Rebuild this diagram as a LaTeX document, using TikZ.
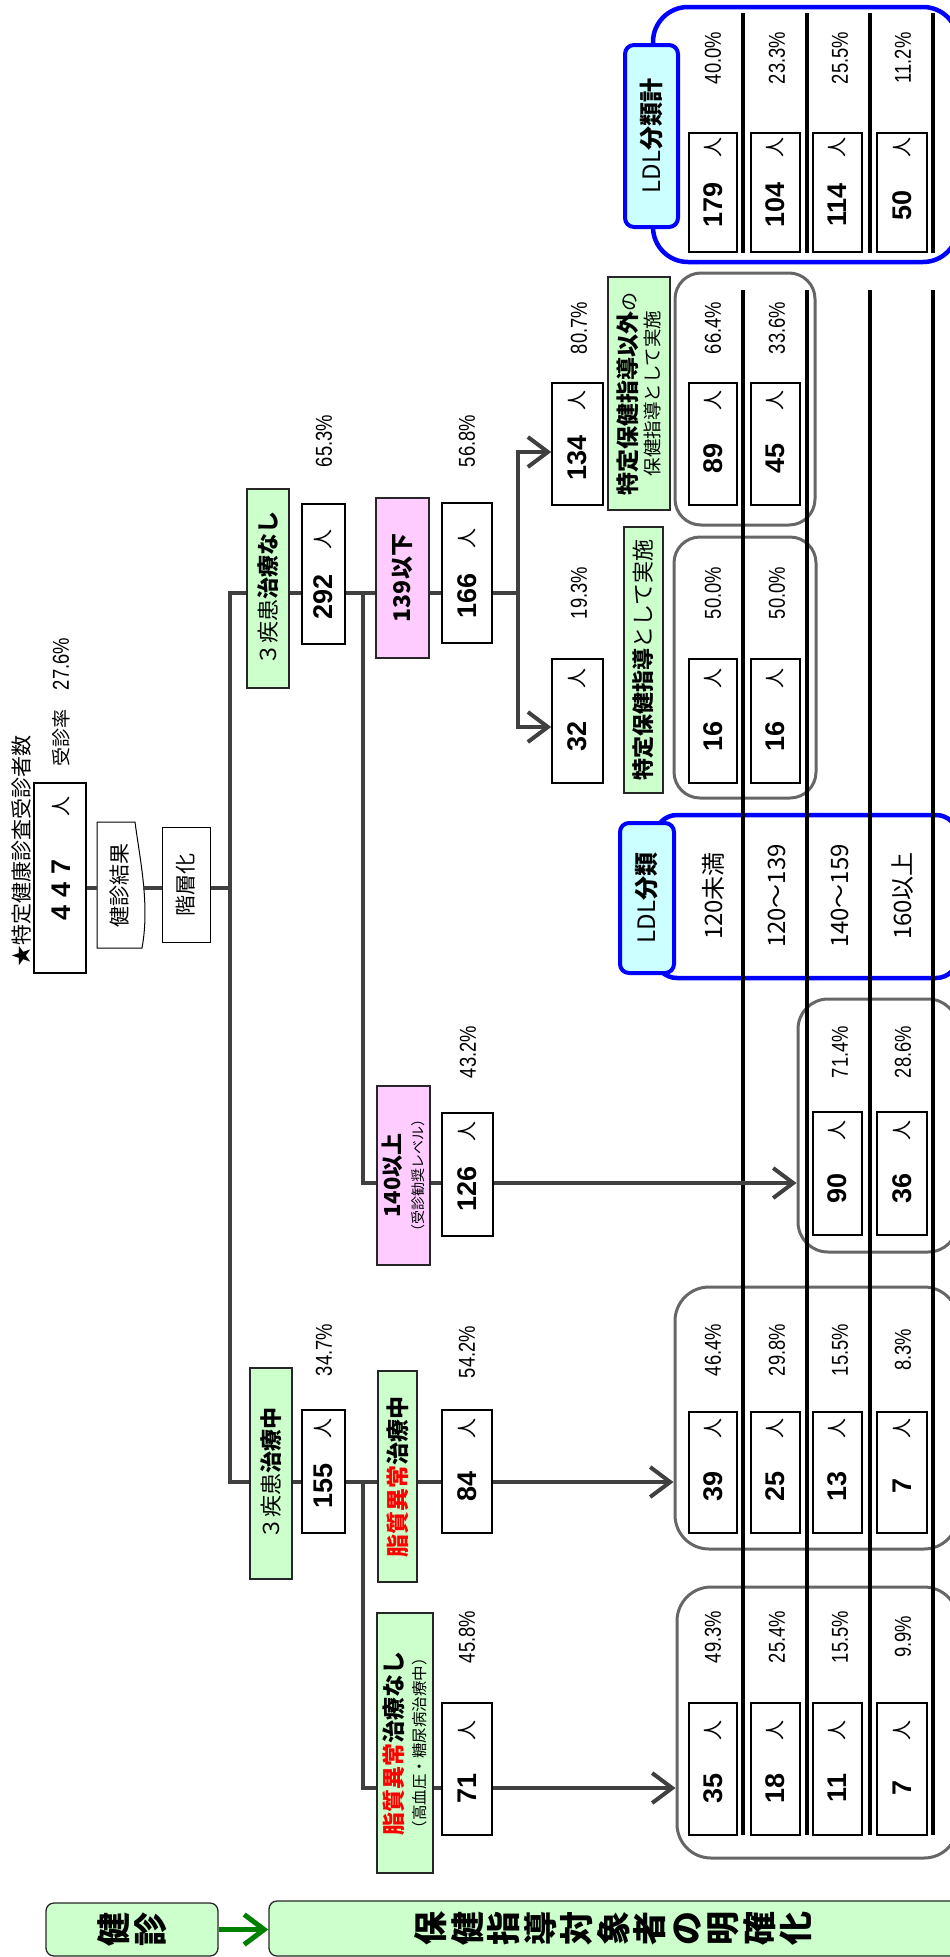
\documentclass[tikz,border=0pt]{standalone}
\usepackage{fontspec}
\setmainfont{Noto Sans CJK JP}
\newfontfamily\numfont{Liberation Sans}
\newfontfamily\pctfont[FakeStretch=0.8]{Liberation Sans}
\usetikzlibrary{arrows.meta}

\definecolor{lgreen}{HTML}{CCFFCC}
\definecolor{lpink}{HTML}{FFCCFF}
\definecolor{lcyan}{HTML}{CCFFFF}
\definecolor{cline}{HTML}{404040}
\definecolor{ggray}{HTML}{666666}
\definecolor{dgreen}{HTML}{008000}

\newcommand\fsz[1]{\fontsize{#1}{#1}\selectfont}

% count cell: name, x-left, x-right, y-top, y-bottom, number
\newcommand\cnt[6]{%
  \node[cellbox, minimum width={(#5-#4)*1pt}, minimum height={(#3-#2)*1pt}] (#1) at ({(#2+#3)/2},{(#4+#5)/2}) {};
  \node[numtxt] (#1n) at ({(#2+#3)/2},{#5-47}) {#6};
  \node[hitotxt] (#1h) at ({(#2+#3)/2},{#5-105}) {人};
}
% percentage label: name, x, y, value
\newcommand\pc[4]{\node[pcttxt] (#1) at (#2,#3) {#4\%};}

\begin{document}
\begin{tikzpicture}[x=1pt,y=-1pt,
  cellbox/.style={rotate=90, draw=black, line width=1.6pt, fill=white, inner sep=0pt},
  numtxt/.style={rotate=90, inner sep=0pt, font=\numfont\bfseries\fsz{27}},
  hitotxt/.style={rotate=90, inner sep=0pt, font=\fsz{20}},
  pcttxt/.style={rotate=90, inner sep=0pt, font=\pctfont\fsz{23}},
  lbl/.style={rotate=90, draw=black!85, line width=1.3pt, fill=lgreen, inner sep=0pt, align=center},
  pk/.style={lbl, fill=lpink},
  plain/.style={rotate=90, inner sep=0pt, align=center},
  conn/.style={draw=cline, line width=4pt},
  arr/.style={conn, -{Straight Barb[length=20pt,width=30pt]}},
  garr/.style={draw=dgreen, line width=5pt, -{Straight Barb[length=20pt,width=30pt]}},
  grp/.style={draw=ggray, line width=3pt, inner sep=0pt},
  bgrp/.style={draw=blue, line width=4.5pt, inner sep=0pt},
  ldlbox/.style={rotate=90, draw=blue, line width=4pt, fill=lcyan, rounded corners=9pt, inner sep=0pt, font=\fsz{24}},
  tline/.style={draw=black, line width=3.2pt},
  band/.style={rotate=90, draw=black!85, line width=1.3pt, fill=lgreen, rounded corners=8pt, inner sep=0pt, align=center, font=\bfseries\fontsize{34}{36.5}\selectfont},
]
\useasboundingbox (0,0) rectangle (950,1957);

% ---------- group frames ----------
\node[grp, rounded corners=26pt, minimum width=140pt, minimum height=252pt] (gB) at (745,399) {};
\node[grp, rounded corners=26pt, minimum width=142pt, minimum height=261pt] (gA) at (745,667.5) {};
\node[grp, rounded corners=30pt, minimum width=160pt, minimum height=253pt] (gC) at (878,1125.5) {};
\node[grp, rounded corners=34pt, minimum width=283pt, minimum height=262pt] (gD) at (816.5,1418) {};
\node[grp, rounded corners=34pt, minimum width=281pt, minimum height=271pt] (gE) at (817.5,1722.5) {};
\node[bgrp, rounded corners=22pt, minimum width=303pt, minimum height=163pt] (gF) at (806.5,896.5) {};
\node[bgrp, rounded corners=35pt, minimum width=305pt, minimum height=255pt] (gG) at (805.5,134.5) {};

% ---------- table rules ----------
\foreach \xx in {743,807,870,933} {
  \draw[tline] (\xx,13) -- (\xx,253);
  \draw[tline] (\xx,290) -- (\xx,1835);
}

% ---------- LDL totals ----------
\cnt{g1}{689}{737}{133}{252}{179} \pc{g1p}{713}{58}{40.0}
\cnt{g2}{751}{800}{133}{252}{104} \pc{g2p}{777}{58}{23.3}
\cnt{g3}{813}{862}{133}{252}{114} \pc{g3p}{840}{58}{25.5}
\cnt{g4}{877}{927}{133}{252}{50}  \pc{g4p}{903}{58}{11.2}

% other guidance group
\cnt{b1}{689}{737}{383}{505}{89} \pc{b1p}{713}{328}{66.4}
\cnt{b2}{751}{800}{383}{505}{45} \pc{b2p}{777}{328}{33.6}

% specific guidance group
\cnt{a1}{689}{737}{659}{783}{16} \pc{a1p}{713}{593}{50.0}
\cnt{a2}{751}{800}{659}{783}{16} \pc{a2p}{777}{593}{50.0}

% 140 and over group
\cnt{c3}{813}{862}{1112}{1235}{90} \pc{c3p}{840}{1052}{71.4}
\cnt{c4}{877}{927}{1112}{1235}{36} \pc{c4p}{903}{1052}{28.6}

% lipid treatment group
\cnt{d1}{689}{737}{1412}{1533}{39} \pc{d1p}{713}{1350}{46.4}
\cnt{d2}{751}{800}{1412}{1533}{25} \pc{d2p}{777}{1350}{29.8}
\cnt{d3}{813}{862}{1412}{1533}{13} \pc{d3p}{840}{1350}{15.5}
\cnt{d4}{877}{927}{1412}{1533}{7}  \pc{d4p}{903}{1350}{8.3}

% no lipid treatment group
\cnt{e1}{689}{737}{1703}{1835}{35} \pc{e1p}{713}{1637}{49.3}
\cnt{e2}{751}{800}{1703}{1835}{18} \pc{e2p}{777}{1637}{25.4}
\cnt{e3}{813}{862}{1703}{1835}{11} \pc{e3p}{840}{1637}{15.5}
\cnt{e4}{877}{927}{1703}{1835}{7}  \pc{e4p}{903}{1637}{9.9}

% LDL class row labels
\node[plain, font=\fsz{24}] (c1) at (713,896) {120未満};
\node[plain, font=\fsz{24}] (c2) at (777,896) {120～139};
\node[plain, font=\fsz{24}] (c3t) at (840,896) {140～159};
\node[plain, font=\fsz{24}] (c4t) at (903,896) {160以上};

\node[ldlbox, minimum width=182pt, minimum height=53pt] (ldlk) at (651.5,136) {LDL\textbf{分類計}};
\node[ldlbox, minimum width=150pt, minimum height=54pt] (ldlc) at (647,898) {LDL\textbf{分類}};

% ---------- main flow ----------
\node[plain, font=\fsz{21}] (title) at (22,851) {★特定健康診査受診者数};
\node[plain, font=\fsz{19}] (rate) at (61,738) {受診率};
\pc{ratep}{61}{664}{27.6}

\node[rotate=90, draw=black, line width=2.8pt, fill=white, inner sep=0pt, minimum width=190pt, minimum height=52pt] (n447) at (60,878) {};
\node[numtxt] (n447n) at (61,890) {4\hspace{8pt}4\hspace{8pt}7};
\node[hitotxt] (n447h) at (61,806) {人};

\draw[black, line width=1pt, fill=white] (97,822) -- (135,822) .. controls (140,860) and (150,905) .. (142,948) -- (97,948) -- cycle;
\node[plain, font=\fsz{21}, minimum width=126pt, minimum height=46pt] (kekka) at (120,885) {健診結果};
\node[plain, draw=black, line width=1pt, fill=white, font=\fsz{21}, minimum width=115pt, minimum height=48pt] (kaiso) at (186,884.5) {階層化};

\node[lbl, minimum width=199pt, minimum height=42pt, font=\fsz{22}] (nashi) at (268,588.5) {３疾患\textbf{治療なし}};
\node[lbl, minimum width=211pt, minimum height=42pt, font=\fsz{22}] (chu) at (271,1473.5) {３疾患\textbf{治療中}};

\cnt{n292}{302}{345}{504}{644}{292}  \pc{n292p}{324}{441}{65.3}
\cnt{n155}{302}{345}{1410}{1533}{155} \pc{n155p}{324}{1350}{34.7}

\node[pk, minimum width=160pt, minimum height=53pt, font=\bfseries\fsz{23}] (k139) at (402.5,578) {139以下};
\node[pk, minimum width=179pt, minimum height=53pt, font=\fontsize{22}{23}\selectfont] (k140) at (403.5,1175.5) {\textbf{140以上}\\{\fsz{14}（受診勧奨レベル）}};
\node[lbl, minimum width=211pt, minimum height=39pt, font=\bfseries\fsz{23}] (kchu) at (397.5,1476.5) {\textcolor{red}{脂質異常}治療中};
\node[lbl, minimum width=260pt, minimum height=56pt, font=\fontsize{23}{23}\selectfont] (knashi) at (405,1743) {\textbf{\textcolor{red}{脂質異常}治療なし}\\{\fsz{15.5}（高血圧・糖尿病治療中）}};

\cnt{n166}{442}{492}{503}{643}{166}   \pc{n166p}{467}{441}{56.8}
\cnt{n126}{442}{493}{1113}{1236}{126} \pc{n126p}{468}{1052}{43.2}
\cnt{n84}{442}{492}{1410}{1533}{84}   \pc{n84p}{467}{1352}{54.2}
\cnt{n71}{442}{492}{1703}{1835}{71}   \pc{n71p}{467}{1637}{45.8}

\cnt{n134}{552}{603}{383}{505}{134} \pc{n134p}{579}{328}{80.7}
\cnt{n32}{552}{603}{659}{783}{32}   \pc{n32p}{579}{593}{19.3}

\node[lbl, minimum width=266pt, minimum height=39pt, font=\fsz{22}] (tokutei) at (643.5,660) {\textbf{特定保健指導}として実施};
\node[lbl, minimum width=233pt, minimum height=62pt, font=\fontsize{23}{23}\selectfont] (igai) at (639,393.5) {\textbf{特定保健指導以外}{\fsz{19}の}\\{\fsz{18.5}保健指導として実施}};

% ---------- connector levels ----------
\coordinate (lv0) at (0,888);
\coordinate (lvA) at (0,593);
\coordinate (lvB) at (0,1482);
\coordinate (lvC) at (0,1183);
\coordinate (lvD) at (0,1788);
\coordinate (lvE) at (0,452);
\coordinate (lvF) at (0,727);
\coordinate (trunk) at (230,888);
\coordinate (subA) at (363,593);
\coordinate (subB) at (363,1482);
\coordinate (br) at (518,593);

\draw[conn] (n447.south |- lv0) -- (kekka.north |- lv0);
\draw[conn] (kekka.south |- lv0) -- (kaiso.north |- lv0);
\draw[conn] (kaiso.south |- lv0) -- (trunk);
\draw[conn] (nashi.north |- lvA) -| (trunk) |- (chu.north |- lvB);

\draw[conn] (nashi.south |- lvA) -- (n292.north |- lvA);
\draw[conn] (n292.south |- lvA) -- (k139.north |- lvA);
\draw[conn] (subA) |- (k140.north |- lvC);
\draw[conn] (k139.south |- lvA) -- (n166.north |- lvA);
\draw[conn] (n166.south |- lvA) -- (br);
\draw[arr] (br) |- (n134.north |- lvE);
\draw[arr] (br) |- (n32.north |- lvF);
\draw[conn] (k140.south |- lvC) -- (n126.north |- lvC);
\draw[arr] (n126.south |- lvC) -- (gC.west |- lvC);

\draw[conn] (chu.south |- lvB) -- (n155.north |- lvB);
\draw[conn] (n155.south |- lvB) -- (kchu.north |- lvB);
\draw[conn] (subB) |- (knashi.north |- lvD);
\draw[conn] (kchu.south |- lvB) -- (n84.north |- lvB);
\draw[arr] (n84.south |- lvB) -- (gD.west |- lvB);
\draw[conn] (knashi.south |- lvD) -- (n71.north |- lvD);
\draw[arr] (n71.south |- lvD) -- (gE.west |- lvD);

% ---------- bottom band ----------
\node[band, minimum width=53pt, minimum height=172pt] (kenshin) at (132,1929.5) {健\\診};
\node[band, minimum width=55pt, minimum height=689pt] (banner) at (613.5,1928.5) {保\\健\\指\\導\\対\\象\\者\\の\\明\\確\\化};
\draw[garr] (kenshin.south) -- (banner.north |- kenshin.south);

\end{tikzpicture}
\end{document}
